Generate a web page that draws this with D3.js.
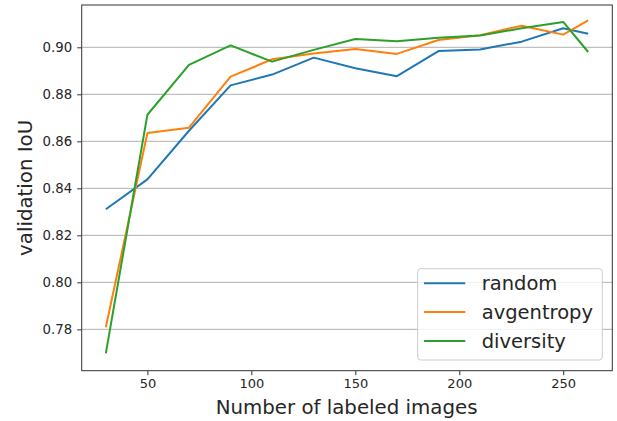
<!DOCTYPE html>
<html>
<head>
<meta charset="utf-8">
<script src="https://cdn.jsdelivr.net/npm/d3@7"></script>
<style>
  body { margin: 0; background: #fff; }
  text { font-family: "DejaVu Sans", sans-serif; fill: #262626; }
</style>
</head>
<body>
<div id="chart"></div>
<script>
// data
const labeled = [30, 50, 70, 90, 110, 130, 150, 170, 190, 210, 230, 250, 262]
const random = [0.8311, 0.8438, 0.8645, 0.8838, 0.8884, 0.8956, 0.8911, 0.8877, 0.8984, 0.8991, 0.9024, 0.9081, 0.9058]
const avgentropy = [0.7809, 0.8635, 0.8658, 0.8875, 0.8949, 0.8974, 0.8993, 0.8972, 0.9031, 0.9051, 0.9092, 0.9054, 0.9115]
const diversity = [0.7698, 0.8713, 0.8925, 0.9008, 0.8939, 0.8989, 0.9035, 0.9026, 0.9041, 0.9050, 0.9081, 0.9108, 0.8980]
const seriesNames = ['random', 'avgentropy', 'diversity']
const xTicks = [50, 100, 150, 200, 250]
const yTicks = [0.78, 0.80, 0.82, 0.84, 0.86, 0.88, 0.90]

const colors = ['#1f77b4', '#ff7f0e', '#2ca02c']
const seriesValues = [random, avgentropy, diversity]

let dimensions = {
  width: 617,
  height: 421,
  margin: { top: 5, bottom: 50.3, left: 81.7, right: 4.7 }
}

const svg = d3.select('#chart')
              .append('svg')
              .attr('width', dimensions.width)
              .attr('height', dimensions.height)

const containerWidth = dimensions.width - dimensions.margin.left - dimensions.margin.right
const containerHeight = dimensions.height - dimensions.margin.top - dimensions.margin.bottom

const container = svg.append('g')
                     .attr('transform', `translate(${dimensions.margin.left},${dimensions.margin.top})`)

// Scales (matplotlib style 5% margins)
const xPad = (d3.max(labeled) - d3.min(labeled)) * 0.05
const xScale = d3.scaleLinear()
                 .domain([d3.min(labeled) - xPad, d3.max(labeled) + xPad])
                 .range([0, containerWidth])

const yScale = d3.scaleLinear()
                 .domain([0.7624, 0.918])
                 .range([containerHeight, 0])

// Grid
container.append('g')
         .selectAll('line')
         .data(yTicks)
         .join('line')
         .attr('x1', 0)
         .attr('x2', containerWidth)
         .attr('y1', d => yScale(d))
         .attr('y2', d => yScale(d))
         .attr('stroke', '#b0b0b0')
         .attr('stroke-width', 1)

// Axes
const xAxis = d3.axisBottom(xScale).tickValues(xTicks).tickSize(4.5).tickPadding(4)
const xAxisGroup = container.append('g')
                            .attr('transform', `translate(0,${containerHeight})`)
                            .call(xAxis)
xAxisGroup.select('.domain').remove()
xAxisGroup.selectAll('line').attr('stroke', '#333')
xAxisGroup.selectAll('text').attr('font-size', '13px').attr('font-family', 'DejaVu Sans').attr('fill', '#262626')

const yAxis = d3.axisLeft(yScale).tickValues(yTicks).tickFormat(d3.format('.2f')).tickSize(4.5).tickPadding(5)
const yAxisGroup = container.append('g').call(yAxis)
yAxisGroup.select('.domain').remove()
yAxisGroup.selectAll('line').attr('stroke', '#333')
yAxisGroup.selectAll('text').attr('font-size', '13.3px').attr('font-family', 'DejaVu Sans').attr('fill', '#262626')

// Lines
const line = d3.line()
               .x((d, i) => xScale(labeled[i]))
               .y(d => yScale(d))

container.selectAll('.series')
         .data(seriesValues)
         .join('path')
         .attr('class', 'series')
         .attr('d', d => line(d))
         .attr('fill', 'none')
         .attr('stroke', (d, i) => colors[i])
         .attr('stroke-width', 2)
         .attr('stroke-linejoin', 'round')

// Frame
container.append('rect')
         .attr('width', containerWidth)
         .attr('height', containerHeight)
         .attr('fill', 'none')
         .attr('stroke', '#333')
         .attr('stroke-width', 1)

// Axis labels
svg.append('text')
   .attr('x', 346.6)
   .attr('y', 414)
   .attr('font-size', '19.8px')
   .attr('text-anchor', 'middle')
   .text('Number of labeled images')

svg.append('text')
   .attr('transform', `translate(31.7,${dimensions.margin.top + containerHeight / 2}) rotate(-90)`)
   .attr('font-size', '19.8px')
   .attr('text-anchor', 'middle')
   .text('validation IoU')

// Legend
const legend = svg.append('g').attr('transform', 'translate(417.7,268.7)')
legend.append('rect')
      .attr('width', 184.6)
      .attr('height', 91.3)
      .attr('rx', 3)
      .attr('fill', 'white')
      .attr('fill-opacity', 0.8)
      .attr('stroke', '#cccccc')
      .attr('stroke-width', 1)

const rows = legend.selectAll('.row')
                   .data(seriesNames)
                   .join('g')
                   .attr('class', 'row')
                   .attr('transform', (d, i) => `translate(0,${14.6 + i * 28.8})`)
rows.append('line')
    .attr('x1', 6.3)
    .attr('x2', 47.6)
    .attr('stroke', (d, i) => colors[i])
    .attr('stroke-width', 2)
rows.append('text')
    .attr('x', 64)
    .attr('dy', '0.35em')
    .attr('font-size', '19.5px')
    .text(d => d)
</script>
</body>
</html>
